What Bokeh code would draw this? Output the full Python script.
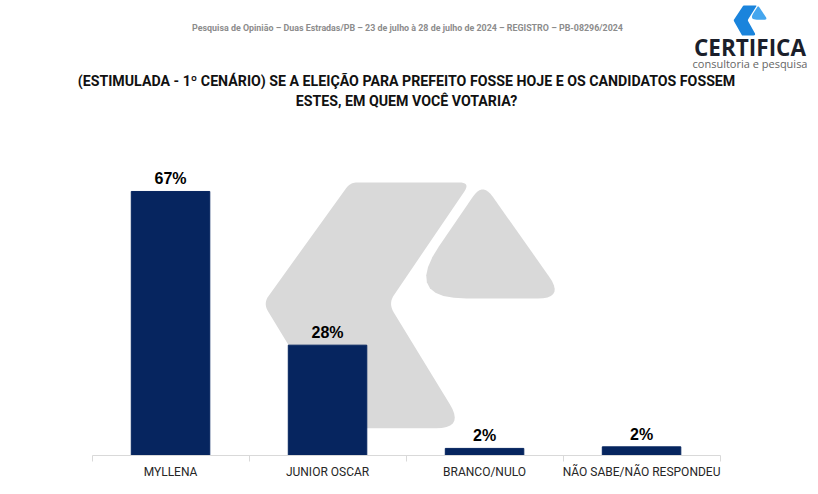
import numpy as np
from bokeh.plotting import figure
from bokeh.layouts import column
from bokeh.models import Range1d, FixedTicker, LinearAxis, ColumnDataSource
from bokeh.core.properties import value
from bokeh.embed import file_html
from bokeh.resources import INLINE

# ---------------- data ----------------
categories = ["MYLLENA", "JUNIOR OSCAR", "BRANCO/NULO", "NÃO SABE/NÃO RESPONDEU"]
values = [67, 28, 1.8, 2.2]
value_labels = [f"{round(v)}%" for v in values]

header_text = "Pesquisa de Opinião – Duas Estradas/PB – 23 de julho à 28 de julho de 2024 – REGISTRO – PB-08296/2024"
title_lines = ["(ESTIMULADA - 1º CENÁRIO) SE A ELEIÇÃO PARA PREFEITO FOSSE HOJE E OS CANDIDATOS FOSSEM",
               "ESTES, EM QUEM VOCÊ VOTARIA?"]
brand = "CERTIFICA"
brand_sub = "consultoria e pesquisa"

BAR_COLOR = "#06255f"
WM_COLOR = "#d9d9d9"

# normalized logo shape (u right, v down), corner radii in px
LOGO_LEFT = [(0.289, 0.0, 14), (0.688, 0.0, 6), (0.415, 0.492, 16),
             (0.668, 1.0, 16), (0.252, 1.0, 4), (0.0, 0.492, 14)]
LOGO_RIGHT = [(0.728, 0.0, 12), (1.0, 0.472, 14), (0.465, 0.472, 40)]


def rounded(poly, w, h, scale=1.0):
    """Return polygon (pixel space w x h) with rounded corners, normalized."""
    pts = [np.array([u * w, v * h]) for u, v, _ in poly]
    rads = [r * scale for _, _, r in poly]
    out = []
    n = len(pts)
    for i in range(n):
        P, A, B = pts[i], pts[i - 1], pts[(i + 1) % n]
        da, db = A - P, B - P
        la, lb = np.linalg.norm(da), np.linalg.norm(db)
        ua, ub = da / la, db / lb
        ang = np.arccos(np.clip(np.dot(ua, ub), -1, 1))
        t = rads[i] / np.tan(ang / 2)
        t = min(t, 0.45 * la, 0.45 * lb)
        p0, p2 = P + ua * t, P + ub * t
        for s in np.linspace(0, 1, 10):
            q = (1 - s) ** 2 * p0 + 2 * (1 - s) * s * P + s ** 2 * p2
            out.append(q)
    arr = np.array(out)
    return arr[:, 0] / w, arr[:, 1] / h


W = 818
H1 = 140
H2 = 354

# ---------------- header figure ----------------
h = figure(width=W, height=H1, x_range=Range1d(0, W), y_range=Range1d(H1, 0),
           toolbar_location=None, output_backend="svg", min_border=0,
           min_border_left=0, min_border_right=0, min_border_top=0, min_border_bottom=0)
h.axis.visible = False
h.grid.visible = False
h.outline_line_color = None

h.text(x=[407], y=[27], text=[header_text], text_align="center", text_baseline="middle",
       text_font=value("Roboto"), text_font_style="bold", text_font_size="8.9px", text_color="#8c8c8c")
h.text(x=[406, 406], y=[80, 100], text=title_lines, text_align="center", text_baseline="middle",
       text_font=value("Roboto"), text_font_style="bold", text_font_size="14.2px", text_color="#111111")
h.text(x=[749.5], y=[47], text=[brand], text_align="center", text_baseline="middle",
       text_font=value("Open Sans"), text_font_style="bold", text_font_size="22.5px", text_color="#1b1f2b")
h.text(x=[749.5], y=[63], text=[brand_sub], text_align="center", text_baseline="middle",
       text_font=value("Open Sans"), text_font_size="11px", text_color="#666666")

# icon
ix0, ix1, iy0, iy1 = 733, 767, 5, 35
for shape, col in ((LOGO_LEFT, "#1a84dc"), (LOGO_RIGHT, "#45a6ee")):
    u, v = rounded(shape, ix1 - ix0, iy1 - iy0, scale=0.12)
    h.patch(x=ix0 + u * (ix1 - ix0), y=iy0 + v * (iy1 - iy0), color=col, line_color=None)

# ---------------- chart figure ----------------
YMAX = 77.4
p = figure(width=W, height=H2, x_range=Range1d(-1.083, 4.127), y_range=Range1d(0, YMAX),
           toolbar_location=None, output_backend="svg", x_axis_location=None,
           min_border_left=0, min_border_right=0, min_border_top=10, min_border_bottom=39)
p.yaxis.visible = False
p.grid.visible = False
p.outline_line_color = None

# watermark (data-space box)
wx0, wx1, wy0, wy1 = 0.59, 2.51, 6.9, 69.3
for shape in (LOGO_LEFT, LOGO_RIGHT):
    u, v = rounded(shape, 301, 246)
    p.patch(x=wx0 + u * (wx1 - wx0), y=wy1 - v * (wy1 - wy0), color=WM_COLOR, line_color=None)

idx = list(range(len(categories)))
src = ColumnDataSource(dict(x=idx, top=values, lab=value_labels))
p.vbar(x="x", top="top", width=0.5, source=src, color=BAR_COLOR, line_color=BAR_COLOR)
p.text(x="x", y="top", text="lab", source=src, text_align="center", text_baseline="bottom",
       y_offset=-4, text_font=value("Liberation Sans"), text_font_style="bold",
       text_font_size="16px", text_color="#000000")

xaxis = LinearAxis(ticker=FixedTicker(ticks=idx, minor_ticks=[i - 0.5 for i in range(len(categories) + 1)]),
                   bounds=(-0.5, len(categories) - 0.5))
xaxis.major_label_overrides = {i: c for i, c in zip(idx, categories)}
xaxis.axis_line_color = "#d9d9d9"
xaxis.major_tick_line_color = None
xaxis.major_tick_out = 0
xaxis.major_tick_in = 0
xaxis.minor_tick_line_color = "#d9d9d9"
xaxis.minor_tick_out = 6
xaxis.minor_tick_in = 0
xaxis.major_label_standoff = 3
xaxis.major_label_text_font = "Roboto"
xaxis.major_label_text_font_size = "12px"
xaxis.major_label_text_color = "#262626"
p.add_layout(xaxis, "below")

layout = column(h, p, spacing=0)
open("out.html", "w").write(file_html(layout, INLINE))
